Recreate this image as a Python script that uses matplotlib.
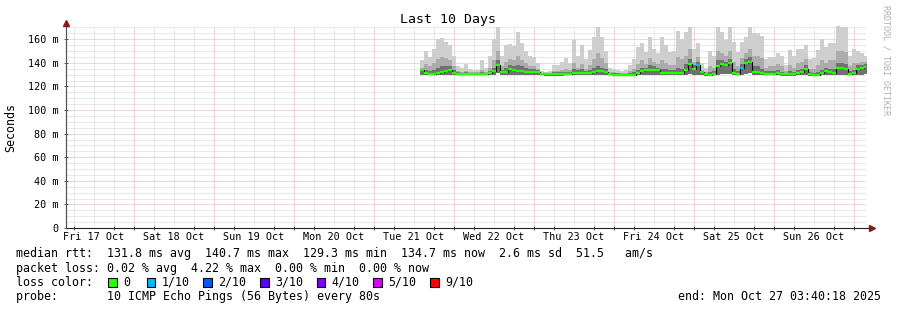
import numpy as np
import pandas as pd
import matplotlib
matplotlib.use("Agg")
import matplotlib.pyplot as plt
import matplotlib.dates as mdates
from matplotlib.patches import Rectangle

# sample grid of the smoke data (one column every 72 minutes)
start = "2025-10-21 13:52"
period = "72min"

# max rtt (top of light smoke), ms
top_ms = [142, 150, 145, 152, 160, 161, 158, 155, 146, 137, 136, 139, 135, 134, 134, 142,
          136, 146, 160, 170, 146, 155, 156, 154, 166, 157, 150, 146,
          145, 140, 133, 132, 133, 138, 138, 141, 144, 140, 159, 146, 155, 143, 151, 162,
          170, 162, 150, 136, 135, 134, 133, 134, 138, 143, 153, 157,
          149, 162, 152, 148, 162, 155, 149, 150, 167, 160, 166, 170, 152, 157, 140, 136,
          150, 146, 170, 166, 159, 170, 158, 149, 158, 162, 170, 165,
          165, 163, 143, 145, 145, 148, 146, 138, 151, 146, 152, 152, 155, 143, 144, 151,
          160, 153, 157, 157, 171, 170, 170, 146, 152, 150, 148, 146]

# upper part of the smoke (medium grey)
upper_ms = [136, 139, 137, 140, 143, 145, 144, 142, 137, 133, 132, 133, 132, 132, 132, 134,
            132, 136, 142, 150, 137, 141, 143, 142, 146, 142, 140, 137,
            137, 135, 131, 131, 131, 133, 133, 134, 135, 134, 140, 136, 139, 135, 138, 143,
            148, 144, 140, 132, 132, 131, 131, 131, 133, 135, 139, 142,
            139, 144, 141, 139, 142, 140, 138, 138, 145, 143, 146, 152, 141, 145, 134, 132,
            137, 136, 150, 148, 146, 150, 141, 137, 144, 148, 152, 146,
            146, 144, 136, 137, 137, 139, 137, 133, 138, 136, 140, 141, 143, 135, 135, 138,
            142, 140, 142, 142, 150, 150, 149, 137, 140, 140, 141, 141]

# dark smoke close to the median
dark_ms = [135, 134, 133, 134, 136, 137, 137, 137, 134, 132, 131.5, 132, 131.5, 131.5, 131.5, 132,
           131.5, 133, 136, 142, 134, 136, 138, 137, 138, 137, 136, 135,
           135, 134, 131, 131, 131, 132, 132, 132, 132, 132, 135, 134, 135, 133, 134, 136,
           137, 136, 135, 131, 131, 131, 130.5, 130.5, 131, 132, 134, 136,
           136, 138, 137, 136, 135, 135, 134, 134, 136, 135, 139, 143, 138, 141, 133, 131.5,
           132, 133, 142, 142, 141, 143, 135, 133, 139, 143, 145, 137,
           137, 135, 133, 133, 133, 134, 132.5, 131.5, 133, 132, 134, 135, 138, 132, 131.5, 132,
           134, 136, 135, 135, 140, 140, 139, 133, 134, 138, 138, 139]

# min rtt (bottom of smoke)
low_ms = [130, 129.5, 129.3, 129.3, 129.5, 129.5, 129.8, 130, 129.5, 129.3, 129.3, 129.3, 129.3, 129.3, 129.3, 129.3,
          129.3, 129.5, 130, 131, 129.8, 130, 130, 130, 130, 130, 129.8, 129.8,
          129.8, 129.8, 129.3, 129.2, 129.2, 129.2, 129.2, 129.2, 129.3, 129.3, 129.5, 129.5, 129.5, 129.5, 129.5, 129.8,
          129.8, 130, 129.8, 129.3, 129.2, 129.2, 129.2, 129, 129, 129, 129.5, 129.8,
          130, 130, 130, 129.8, 129.5, 129.5, 129.5, 129.5, 129.5, 129.5, 130, 130.5, 130, 130, 129.5, 129.2,
          129, 129.3, 130, 130.5, 130.5, 130.5, 129.5, 129.5, 130, 130.5, 131, 129.8,
          129.8, 129.5, 129.3, 129.3, 129.3, 129.5, 129.2, 129.2, 129.2, 129.2, 129.5, 129.8, 130, 129.2, 129.2, 129.2,
          129.5, 130, 129.8, 129.5, 130, 130, 130, 129.5, 129.5, 130, 130, 130.3]

# median rtt, ms
median_ms = [133.5, 131, 130.5, 130.8, 131.5, 132, 133, 133.5, 131.5, 130.5, 130.5, 130.4, 130.4, 130.4, 130.5, 130.5,
             130.6, 131.5, 133, 138, 132, 132.5, 134.5, 133.5, 133, 133, 132.5, 132,
             132.5, 132, 130.2, 130.1, 130.1, 130.1, 130.2, 130.2, 130.3, 130.3, 131.5, 131.5, 131.2, 131.3, 131.5, 132.5,
             132.8, 133, 132.5, 130.3, 130, 130, 130, 129.6, 129.6, 129.6, 131.5, 133,
             134, 134, 134, 133.5, 131.5, 131.5, 131.5, 131.5, 131.5, 131.5, 134, 139, 135, 138.5, 132, 130.2,
             129.8, 130.5, 137, 139, 138.5, 139.5, 131, 130.8, 136, 139.5, 141, 132,
             132.5, 131.5, 130.7, 130.7, 130.7, 131.3, 130.2, 130.1, 130.1, 130.1, 131.5, 132, 135, 130.2, 130, 130,
             131, 133, 132, 131.5, 135.5, 135.5, 135, 130.7, 131, 135, 135.5, 136.3]

# samples that lost pings (index, lost of 10)
loss_idx = [69, 80]
loss_cnt = [1, 1]

loss_colors = {0: "#26ff00", 1: "#00b8ff", 2: "#0059ff", 3: "#5e00ff",
               4: "#7e00ff", 5: "#dd00ff", 9: "#ff0000"}
loss_labels = ["0", "1/10", "2/10", "3/10", "4/10", "5/10", "9/10"]
loss_keys = [0, 1, 2, 3, 4, 5, 9]

day_labels = ["Fri 17 Oct", "Sat 18 Oct", "Sun 19 Oct", "Mon 20 Oct", "Tue 21 Oct",
              "Wed 22 Oct", "Thu 23 Oct", "Fri 24 Oct", "Sat 25 Oct", "Sun 26 Oct"]
yticks = [0, 20, 40, 60, 80, 100, 120, 140, 160]

end_time = pd.Timestamp("2025-10-27 03:40:18")
begin_time = end_time - pd.Timedelta(days=10)

mono = "DejaVu Sans Mono"
plt.rcParams["font.family"] = mono

fig = plt.figure(figsize=(8.97, 3.10), dpi=100)
W, H = 897, 310
ax = fig.add_axes([66 / W, (H - 228) / H, 800 / W, 202 / H])

# time columns
times = pd.date_range(start, periods=len(median_ms), freq=period)
t = mdates.date2num(times)
dt = t[1] - t[0]
te = np.append(t, t[-1] + dt)


def ext(a):
    a = np.asarray(a, dtype=float)
    return np.append(a, a[-1])


low = ext(low_ms)
ax.fill_between(te, low, ext(top_ms), step="post", color="#cecece", lw=0, zorder=2)
ax.fill_between(te, low, ext(upper_ms), step="post", color="#ababab", lw=0, zorder=3)
ax.fill_between(te, low, ext(dark_ms), step="post", color="#707070", lw=0, zorder=4)

# median: thin black connector plus loss coloured dashes
ax.step(te, ext(median_ms), where="post", color="black", lw=0.8, zorder=5)
cols = [loss_colors[0]] * len(median_ms)
for i, c in zip(loss_idx, loss_cnt):
    cols[i] = loss_colors[c]
ax.hlines(median_ms, t, t + dt, colors=cols, lw=1.7, zorder=6)

# grid
x0 = mdates.date2num(begin_time)
x1 = mdates.date2num(end_time)
ax.set_xlim(x0, x1)
ax.set_ylim(0, 171.2)

dots = (0, (1, 1))
for v in range(5, 171, 5):
    if v % 20 == 0:
        ax.axhline(v, color="#eba8a8", lw=0.72, ls=dots, zorder=1)
    else:
        ax.axhline(v, color="#d2d2d2", lw=0.72, ls=dots, zorder=1)

hours = pd.date_range("2025-10-17 06:00", "2025-10-27 00:00", freq="6h")
for h in hours:
    hx = mdates.date2num(h)
    if h.hour == 0:
        ax.axvline(hx, color="#eba8a8", lw=0.72, ls=dots, zorder=1)
    else:
        ax.axvline(hx, color="#d2d2d2", lw=0.72, ls=dots, zorder=1)

noon = pd.date_range("2025-10-17 12:00", periods=10, freq="D")
ax.set_xticks(mdates.date2num(noon))
ax.set_xticklabels(day_labels, fontsize=7.3)
ax.tick_params(axis="x", length=0, pad=3)
ax.set_xticks(mdates.date2num(hours), minor=True)
ax.tick_params(axis="x", which="minor", length=3, direction="inout", color="#555555", width=0.7)
ax.set_yticks(yticks)
ax.set_yticklabels(["0"] + [f"{v} m" for v in yticks[1:]], fontsize=7.3)
ax.tick_params(axis="y", length=3, pad=4, direction="inout", color="#555555", width=0.7)

for s in ["top", "right"]:
    ax.spines[s].set_visible(False)
ax.spines["left"].set_color("#555555")
ax.spines["bottom"].set_color("#222222")
ax.spines["left"].set_linewidth(0.8)
ax.spines["bottom"].set_linewidth(0.8)

# overlay in pixel coordinates for text and arrows
ov = fig.add_axes([0, 0, 1, 1], facecolor="none")
ov.set_xlim(0, W)
ov.set_ylim(H, 0)
ov.axis("off")

ov.plot([66, 66], [228, 26], color="#555555", lw=0.8)
ov.plot([866, 870], [228, 228], color="#222222", lw=0.8)
ov.plot([66], [22.5], marker="^", color="#8b1a1a", markersize=4)
ov.plot([872], [228], marker=">", color="#8b1a1a", markersize=4)

ov.text(448, 19, "Last 10 Days", ha="center", va="center", fontsize=9.5)
ov.text(11, 127, "Seconds", rotation=90, ha="center", va="center", fontsize=8.4)
ov.text(886, 5, "RRDTOOL / TOBI OETIKER", rotation=270, ha="center", va="top",
        fontsize=6, color="#b0b0b0")

fs = 8.4
ov.text(16, 254, "median rtt:  131.8 ms avg  140.7 ms max  129.3 ms min  134.7 ms now  2.6 ms sd  51.5   am/s",
        ha="left", va="center", fontsize=fs)
ov.text(16, 268.3, "packet loss: 0.02 % avg  4.22 % max  0.00 % min  0.00 % now",
        ha="left", va="center", fontsize=fs)
ov.text(16, 282.3, "loss color:", ha="left", va="center", fontsize=fs)
box_x = [108, 146.5, 203, 260, 316.5, 373, 430]
for bx, k, lab in zip(box_x, loss_keys, loss_labels):
    ov.add_patch(Rectangle((bx, 277.8), 8.5, 9, facecolor=loss_colors[k], edgecolor="black", lw=0.8))
    ov.text(bx + 15, 282.3, lab, ha="left", va="center", fontsize=fs)
ov.text(16, 296.7, "probe:       10 ICMP Echo Pings (56 Bytes) every 80s",
        ha="left", va="center", fontsize=fs)
ov.text(881, 296.7, "end: Mon Oct 27 03:40:18 2025", ha="right", va="center", fontsize=fs)

fig.savefig("out.png", dpi=100, facecolor="white")
